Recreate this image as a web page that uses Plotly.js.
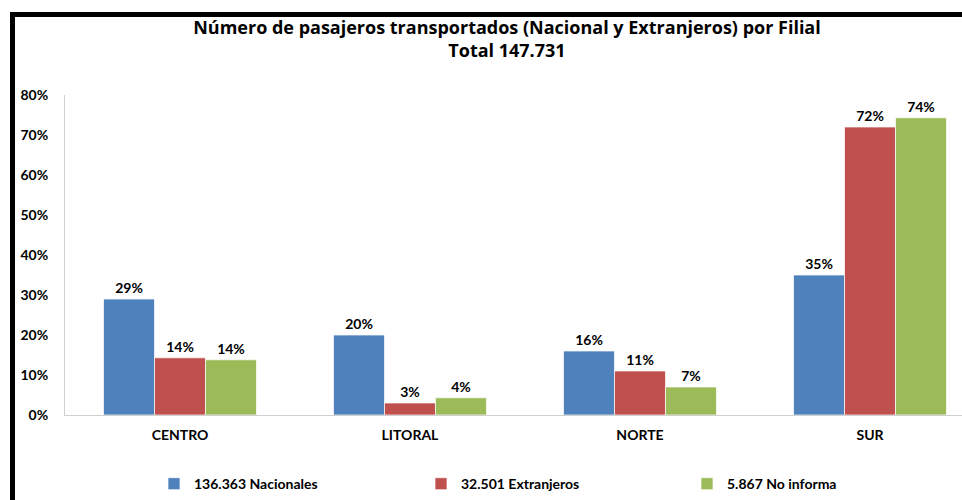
<!DOCTYPE html>
<html>
<head>
<meta charset="utf-8">
<script src="https://cdn.plot.ly/plotly-3.0.1.min.js"></script>
<style>
  html, body { margin: 0; padding: 0; background: #fff; }
  #wrap { position: relative; width: 962px; height: 500px; }
  #chart { position: absolute; left: 0; top: 0; width: 962px; height: 500px; }
  #frame { position: absolute; left: 10px; top: 12px; right: 0; bottom: 0;
           border-left: 5px solid #000; border-top: 5px solid #000;
           pointer-events: none; z-index: 10; }
</style>
</head>
<body>
<div id="wrap">
  <div id="chart"></div>
  <div id="frame"></div>
</div>
<script>
const categories = ['CENTRO', 'LITORAL', 'NORTE', 'SUR'];
const seriesNames = ['136.363 Nacionales', '32.501 Extranjeros', '5.867 No informa'];
const nacionales = [29, 20, 16, 35];
const extranjeros = [14.3, 3, 11, 72];
const noInforma = [13.8, 4.3, 7, 74.3];
const yTicks = [0, 10, 20, 30, 40, 50, 60, 70, 80];
const yTickLabels = ['0%', '10%', '20%', '30%', '40%', '50%', '60%', '70%', '80%'];
const titleText = '<b>Número de pasajeros transportados (Nacional y Extranjeros) por Filial</b><br><b>Total 147.731</b>';

const colors = ['#4F81BD', '#C0504D', '#9BBB59'];
const values = [nacionales, extranjeros, noInforma];
const legendIds = ['legend', 'legend2', 'legend3'];
const fontFam = 'Lato, "Open Sans", sans-serif';

const traces = values.map((v, i) => ({
  type: 'bar',
  name: seriesNames[i],
  legend: legendIds[i],
  x: categories,
  y: v,
  marker: { color: colors[i], line: { color: 'rgba(255,255,255,0.7)', width: 1 } },
  texttemplate: '%{y:.0f}%',
  textposition: 'outside',
  cliponaxis: false,
  textfont: { family: fontFam, size: 14, color: '#000', weight: 'bold' },
  hoverinfo: 'skip'
}));

function legendAt(px) {
  return {
    orientation: 'h',
    x: (px - 65) / 897, xanchor: 'left',
    y: -0.216, yanchor: 'middle',
    itemwidth: 30,
    bgcolor: 'rgba(0,0,0,0)',
    font: { family: fontFam, size: 14, color: '#000', weight: 'bold' },
    itemclick: false, itemdoubleclick: false
  };
}

const layout = {
  width: 962, height: 500,
  margin: { l: 65, r: 0, t: 95, b: 85, autoexpand: false },
  paper_bgcolor: '#fff', plot_bgcolor: '#fff',
  font: { family: fontFam, color: '#000' },
  barmode: 'group',
  bargap: 0.335,
  bargroupgap: 0,
  title: {
    text: titleText,
    x: 0.527, xref: 'container', xanchor: 'center',
    y: 0.932, yref: 'container', yanchor: 'middle',
    font: { family: '"Open Sans", sans-serif', size: 18, color: '#000' }
  },
  xaxis: {
    type: 'category',
    range: [-0.5, 3.4],
    showgrid: false,
    showline: true, linecolor: '#d0d0d0', linewidth: 1,
    ticks: '',
    ticklabelstandoff: 7,
    tickfont: { family: fontFam, size: 14, color: '#000', weight: 'bold' },
    fixedrange: true
  },
  yaxis: {
    range: [0, 80],
    tickvals: yTicks,
    ticktext: yTickLabels,
    showgrid: false, zeroline: false,
    showline: true, linecolor: '#d0d0d0', linewidth: 1,
    ticks: '',
    ticklabelstandoff: 13,
    tickfont: { family: fontFam, size: 14, color: '#000', weight: 'bold' },
    fixedrange: true
  },
  showlegend: true,
  legend: legendAt(154),
  legend2: legendAt(421),
  legend3: legendAt(687)
};

Plotly.newPlot('chart', traces, layout, { displayModeBar: false, staticPlot: true });
</script>
</body>
</html>
